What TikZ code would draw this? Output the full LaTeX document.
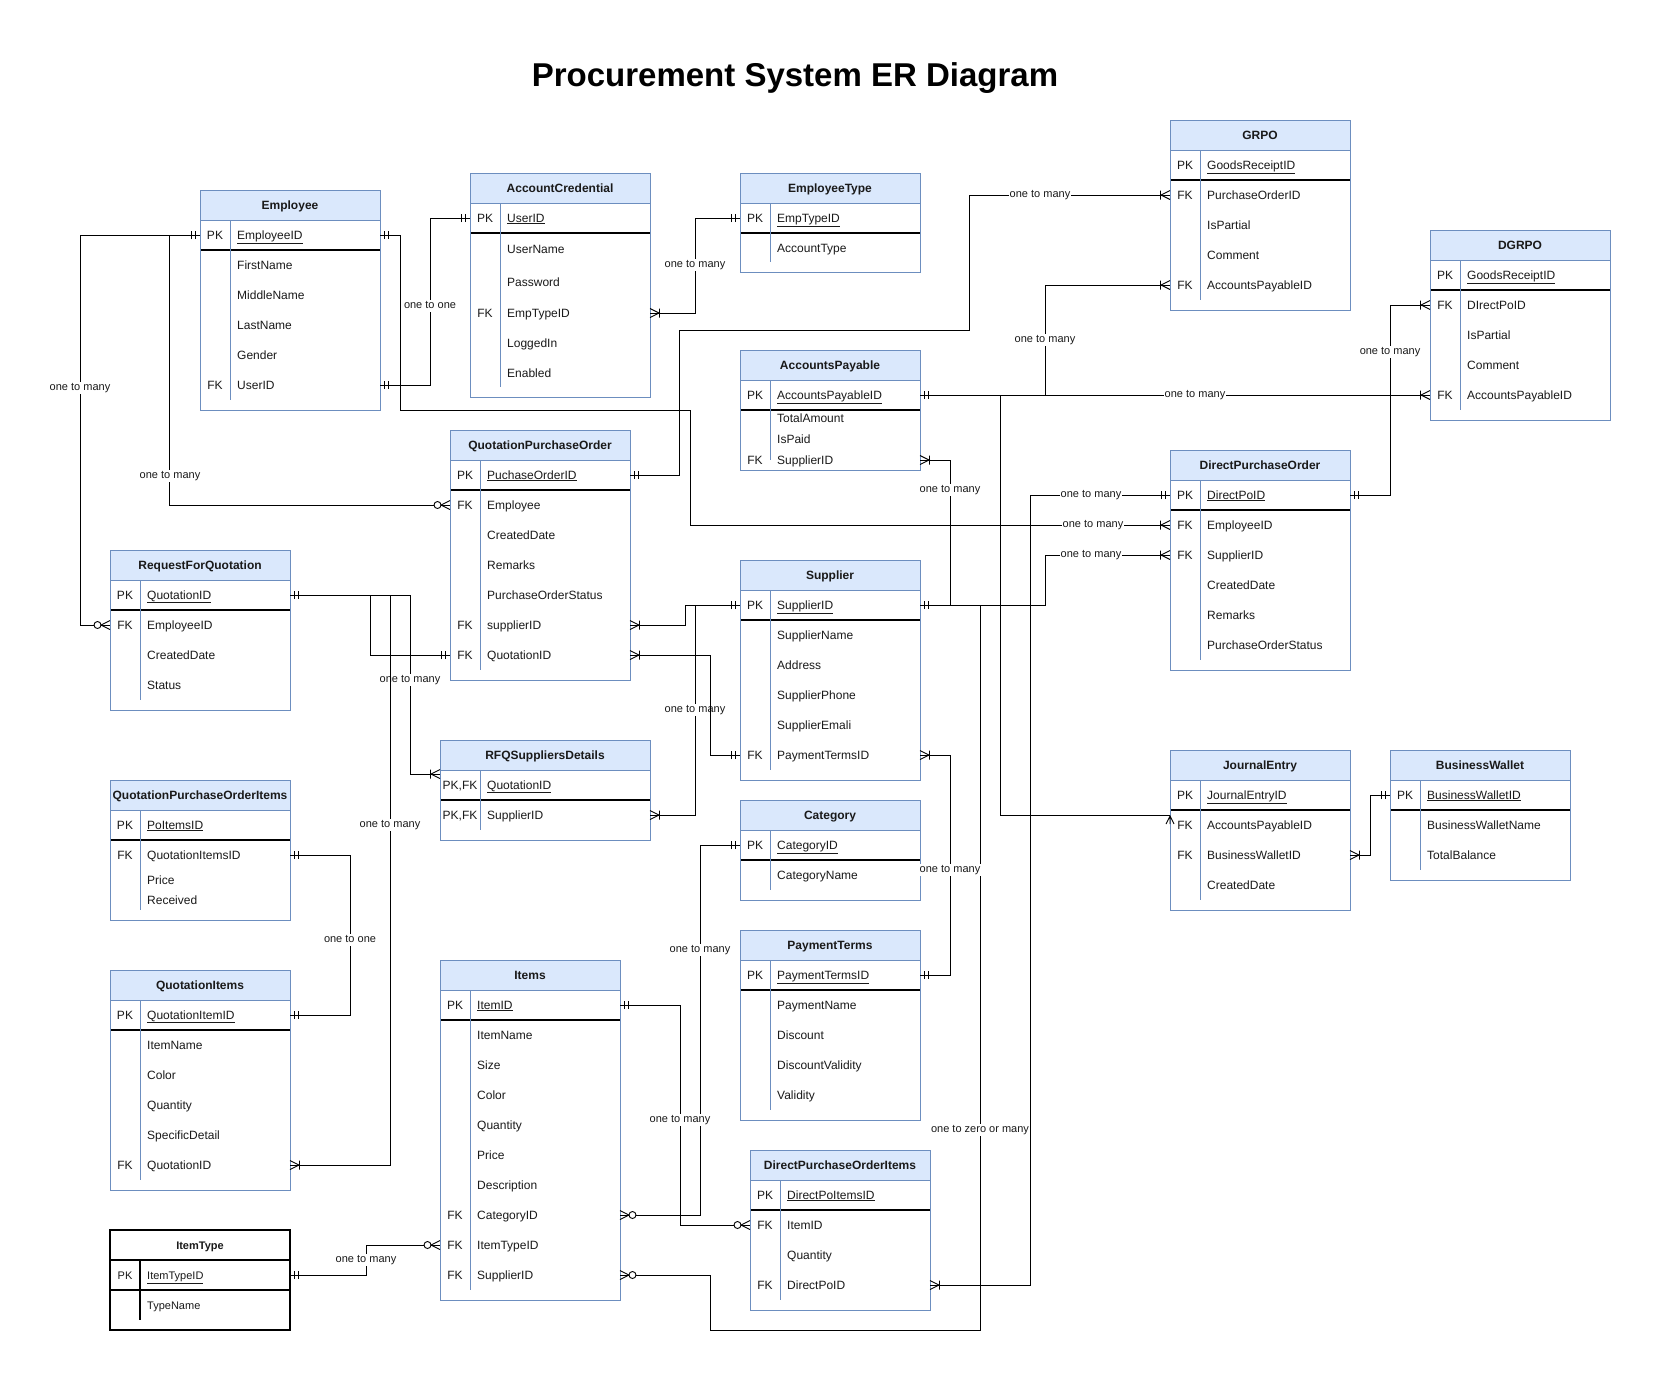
\documentclass[tikz,border=0pt]{standalone}
\usepackage{fontspec}
\setmainfont{Liberation Sans}
\definecolor{bc}{HTML}{6C8EBF}
\definecolor{hf}{HTML}{DAE8FC}
\definecolor{tc}{HTML}{1A1A1A}
\tikzset{
  bordc/.style={draw=bc, line width=1pt},
  hdrfill/.style={fill=hf},
  pkline/.style={draw=black, line width=1.3pt},
  ttl/.style={font=\fontsize{12}{14}\selectfont\bfseries, text=tc, inner sep=0pt, text height=8pt, text depth=0pt},
  keytxt/.style={font=\fontsize{12}{14}\selectfont, text=tc, inner sep=0pt, text height=8pt, text depth=0pt},
  attrtxt/.style={font=\fontsize{12}{14}\selectfont, text=tc, inner sep=0pt, anchor=west, text height=8pt, text depth=0pt},
  rowbox/.style={draw=none, minimum height=20pt, inner sep=0pt, outer sep=0pt},
  framebox/.style={draw=none, inner sep=0pt, outer sep=0pt},
  conn/.style={draw=black, line width=1pt},
  mk/.style={draw=black, line width=0.9pt},
  lbl/.style={fill=white, text=tc, font=\fontsize{11}{13}\selectfont, inner xsep=0.5pt, inner ysep=1pt, text height=7.6pt, text depth=2.3pt},
  mone/.pic={\draw[mk] (4.5,-4) -- (4.5,4) (8.5,-4) -- (8.5,4);},
  onemany/.pic={\draw[mk] (0,-4.5) -- (9,0) -- (0,4.5) (9.5,-4.5) -- (9.5,4.5);},
  zmany/.pic={\draw[mk] (0,-4.5) -- (9,0) -- (0,4.5); \draw[mk,fill=white] (12.5,0) circle (3.5);},
  vmany/.pic={\draw[mk] (0,-4) -- (8,0) -- (0,4) (0,0) -- (8,0);},
}
% #1 opts, #2 id, #3 x, #4 top, #5 width, #6 bottom, #7 title, #8 key width
\newcommand\Ent[8][]{%
  \begin{scope}[#1]
  \node[framebox, minimum width={#5*1pt}, minimum height={(#6-#4)*1pt}, anchor=north west] (#2) at (#3,#4) {};
  \fill[hdrfill] (#3,#4) rectangle ({#3+#5},{#4+30});
  \node[ttl] (#2-t) at ({#3+#5/2},{#4+15}) {#7};
  \draw[bordc] (#3,{#4+30}) -- ({#3+#5},{#4+30});
  \draw[pkline] (#3,{#4+60}) -- ({#3+#5},{#4+60});
  \draw[bordc] ({#3+#8},{#4+30}) -- ({#3+#8},{#6-10});
  \draw[bordc] (#3,#4) rectangle ({#3+#5},#6);
  \end{scope}}
% #1 key width, #2 id, #3 x, #4 y, #5 width, #6 key, #7 text
\newcommand\Row[7][30]{%
  \node[rowbox, minimum width={#5*1pt}] (#2) at ({#3+#5/2},#4) {};
  \node[keytxt] (#2-k) at ({#3+#1/2},#4) {#6};
  \node[attrtxt] (#2-n) at ({#3+#1+7},#4) {#7};}
\begin{document}
\begin{tikzpicture}[x=1pt,y=-1pt]
\fill[white] (0,0) rectangle (1661,1390);
\useasboundingbox (0,0) rectangle (1661,1390);

\node (title) at (795,78) {\fontsize{33}{38}\selectfont\bfseries Procurement System ER Diagram};

% ---------------- entities
\Ent{emp}{200}{190}{180}{410}{Employee}{30}
\Row{emp-pk}{200}{235}{180}{PK}{\underline{EmployeeID}}
\Row{emp-first}{200}{265}{180}{}{FirstName}
\Row{emp-mid}{200}{295}{180}{}{MiddleName}
\Row{emp-last}{200}{325}{180}{}{LastName}
\Row{emp-gen}{200}{355}{180}{}{Gender}
\Row{emp-user}{200}{385}{180}{FK}{UserID}

\Ent{ac}{470}{173}{180}{397}{AccountCredential}{30}
\Row{ac-pk}{470}{218}{180}{PK}{\underline{UserID}}
\Row{ac-un}{470}{249}{180}{}{UserName}
\Row{ac-pw}{470}{282}{180}{}{Password}
\Row{ac-et}{470}{313}{180}{FK}{EmpTypeID}
\Row{ac-li}{470}{343}{180}{}{LoggedIn}
\Row{ac-en}{470}{373}{180}{}{Enabled}

\Ent{et}{740}{173}{180}{272}{EmployeeType}{30}
\Row{et-pk}{740}{218}{180}{PK}{\underline{EmpTypeID}}
\Row{et-at}{740}{248}{180}{}{AccountType}

\Ent{gr}{1170}{120}{180}{310}{GRPO}{30}
\Row{gr-pk}{1170}{165}{180}{PK}{\underline{GoodsReceiptID}}
\Row{gr-po}{1170}{195}{180}{FK}{PurchaseOrderID}
\Row{gr-ip}{1170}{225}{180}{}{IsPartial}
\Row{gr-cm}{1170}{255}{180}{}{Comment}
\Row{gr-ap}{1170}{285}{180}{FK}{AccountsPayableID}

\Ent{dg}{1430}{230}{180}{420}{DGRPO}{30}
\Row{dg-pk}{1430}{275}{180}{PK}{\underline{GoodsReceiptID}}
\Row{dg-dp}{1430}{305}{180}{FK}{DIrectPoID}
\Row{dg-ip}{1430}{335}{180}{}{IsPartial}
\Row{dg-cm}{1430}{365}{180}{}{Comment}
\Row{dg-ap}{1430}{395}{180}{FK}{AccountsPayableID}

\Ent{ap}{740}{350}{180}{470}{AccountsPayable}{30}
\Row{ap-pk}{740}{395}{180}{PK}{\underline{AccountsPayableID}}
\Row{ap-ta}{740}{418}{180}{}{TotalAmount}
\Row{ap-ip}{740}{439}{180}{}{IsPaid}
\Row{ap-sup}{740}{460}{180}{FK}{SupplierID}

\Ent{qpo}{450}{430}{180}{680}{QuotationPurchaseOrder}{30}
\Row{qpo-pk}{450}{475}{180}{PK}{\underline{PuchaseOrderID}}
\Row{qpo-emp}{450}{505}{180}{FK}{Employee}
\Row{qpo-cd}{450}{535}{180}{}{CreatedDate}
\Row{qpo-rm}{450}{565}{180}{}{Remarks}
\Row{qpo-st}{450}{595}{180}{}{PurchaseOrderStatus}
\Row{qpo-sup}{450}{625}{180}{FK}{supplierID}
\Row{qpo-q}{450}{655}{180}{FK}{QuotationID}

\Ent{rfq}{110}{550}{180}{710}{RequestForQuotation}{30}
\Row{rfq-pk}{110}{595}{180}{PK}{\underline{QuotationID}}
\Row{rfq-emp}{110}{625}{180}{FK}{EmployeeID}
\Row{rfq-cd}{110}{655}{180}{}{CreatedDate}
\Row{rfq-st}{110}{685}{180}{}{Status}

\Ent{sup}{740}{560}{180}{780}{Supplier}{30}
\Row{sup-pk}{740}{605}{180}{PK}{\underline{SupplierID}}
\Row{sup-name}{740}{635}{180}{}{SupplierName}
\Row{sup-addr}{740}{665}{180}{}{Address}
\Row{sup-ph}{740}{695}{180}{}{SupplierPhone}
\Row{sup-em}{740}{725}{180}{}{SupplierEmali}
\Row{sup-pt}{740}{755}{180}{FK}{PaymentTermsID}

\Ent{dpo}{1170}{450}{180}{670}{DirectPurchaseOrder}{30}
\Row{dpo-pk}{1170}{495}{180}{PK}{\underline{DirectPoID}}
\Row{dpo-emp}{1170}{525}{180}{FK}{EmployeeID}
\Row{dpo-sup}{1170}{555}{180}{FK}{SupplierID}
\Row{dpo-cd}{1170}{585}{180}{}{CreatedDate}
\Row{dpo-rm}{1170}{615}{180}{}{Remarks}
\Row{dpo-st}{1170}{645}{180}{}{PurchaseOrderStatus}

\Ent{rsd}{440}{740}{210}{840}{RFQSuppliersDetails}{40}
\Row[40]{rsd-q}{440}{785}{210}{PK,FK}{\underline{QuotationID}}
\Row[40]{rsd-s}{440}{815}{210}{PK,FK}{SupplierID}

\Ent{qpi}{110}{780}{180}{920}{QuotationPurchaseOrderItems}{30}
\Row{qpi-pk}{110}{825}{180}{PK}{\underline{PoItemsID}}
\Row{qpi-qi}{110}{855}{180}{FK}{QuotationItemsID}
\Row{qpi-pr}{110}{880}{180}{}{Price}
\Row{qpi-rc}{110}{900}{180}{}{Received}

\Ent{qi}{110}{970}{180}{1190}{QuotationItems}{30}
\Row{qi-pk}{110}{1015}{180}{PK}{\underline{QuotationItemID}}
\Row{qi-in}{110}{1045}{180}{}{ItemName}
\Row{qi-co}{110}{1075}{180}{}{Color}
\Row{qi-qt}{110}{1105}{180}{}{Quantity}
\Row{qi-sd}{110}{1135}{180}{}{SpecificDetail}
\Row{qi-q}{110}{1165}{180}{FK}{QuotationID}

\Ent[bordc/.style={draw=black,line width=1.2pt}, hdrfill/.style={fill=white}, ttl/.append style={font=\fontsize{11}{13}\selectfont\bfseries}]{it}{110}{1230}{180}{1330}{ItemType}{30}
\begin{scope}[keytxt/.append style={font=\fontsize{11}{13}\selectfont}, attrtxt/.append style={font=\fontsize{11}{13}\selectfont}]
\Row{it-pk}{110}{1275}{180}{PK}{\underline{ItemTypeID}}
\Row{it-tn}{110}{1305}{180}{}{TypeName}
\end{scope}

\Ent{itm}{440}{960}{180}{1300}{Items}{30}
\Row{itm-pk}{440}{1005}{180}{PK}{\underline{ItemID}}
\Row{itm-nm}{440}{1035}{180}{}{ItemName}
\Row{itm-sz}{440}{1065}{180}{}{Size}
\Row{itm-co}{440}{1095}{180}{}{Color}
\Row{itm-qt}{440}{1125}{180}{}{Quantity}
\Row{itm-pr}{440}{1155}{180}{}{Price}
\Row{itm-ds}{440}{1185}{180}{}{Description}
\Row{itm-cat}{440}{1215}{180}{FK}{CategoryID}
\Row{itm-typ}{440}{1245}{180}{FK}{ItemTypeID}
\Row{itm-sup}{440}{1275}{180}{FK}{SupplierID}

\Ent{cat}{740}{800}{180}{900}{Category}{30}
\Row{cat-pk}{740}{845}{180}{PK}{\underline{CategoryID}}
\Row{cat-nm}{740}{875}{180}{}{CategoryName}

\Ent{pt}{740}{930}{180}{1120}{PaymentTerms}{30}
\Row{pt-pk}{740}{975}{180}{PK}{\underline{PaymentTermsID}}
\Row{pt-nm}{740}{1005}{180}{}{PaymentName}
\Row{pt-dc}{740}{1035}{180}{}{Discount}
\Row{pt-dv}{740}{1065}{180}{}{DiscountValidity}
\Row{pt-va}{740}{1095}{180}{}{Validity}

\Ent{dpi}{750}{1150}{180}{1310}{DirectPurchaseOrderItems}{30}
\Row{dpi-pk}{750}{1195}{180}{PK}{\underline{DirectPoItemsID}}
\Row{dpi-item}{750}{1225}{180}{FK}{ItemID}
\Row{dpi-qt}{750}{1255}{180}{}{Quantity}
\Row{dpi-dpo}{750}{1285}{180}{FK}{DirectPoID}

\Ent{je}{1170}{750}{180}{910}{JournalEntry}{30}
\Row{je-pk}{1170}{795}{180}{PK}{\underline{JournalEntryID}}
\Row{je-ap}{1170}{825}{180}{FK}{AccountsPayableID}
\Row{je-bw}{1170}{855}{180}{FK}{BusinessWalletID}
\Row{je-cd}{1170}{885}{180}{}{CreatedDate}

\Ent{bw}{1390}{750}{180}{880}{BusinessWallet}{30}
\Row{bw-pk}{1390}{795}{180}{PK}{\underline{BusinessWalletID}}
\Row{bw-nm}{1390}{825}{180}{}{BusinessWalletName}
\Row{bw-tb}{1390}{855}{180}{}{TotalBalance}

% ---------------- connectors
\draw[conn] (emp-pk.west) -- ++(-120,0) |- (rfq-emp.west);
\node[lbl] (l1) at (80,388) {one to many};
\draw[conn] (emp-pk.west) -- ++(-30.5,0) |- (qpo-emp.west);
\node[lbl] (l2) at (170,476) {one to many};
\draw[conn] (emp-pk.east) -| (400,410) -- (690,410) |- (dpo-emp.west);
\draw[conn] (emp-user.east) -- ++(50,0) |- (ac-pk.west);
\node[lbl] (l4) at (430,306) {one to one};
\draw[conn] (ac-et.east) -- ++(45,0) |- (et-pk.west);
\node[lbl] (l5) at (695,265) {one to many};
\draw[conn] (qpo-pk.east) -| (679,330) -- (969,330) |- (gr-po.west);
\node[lbl] (l6) at (1040,195) {one to many};
\draw[conn] (ap-pk.east) -- (dg-ap.west);
\draw[conn] (ap-pk.east) -- ++(125,0) |- (gr-ap.west);
\node[lbl] (l8) at (1045,340) {one to many};
\draw[conn] (ap-pk.east) -- ++(80,0) |- ([yshift=10pt]je-ap.west);
\draw[conn] (ap-sup.east) -- ++(30,0) |- (sup-pk.east);
\node[lbl] (l10) at (950,490) {one to many};
\draw[conn] (sup-pk.east) -- ++(125,0) |- (dpo-sup.west);
\node[lbl] (l11) at (1091,555) {one to many};
\draw[conn] (dpo-pk.west) -- ++(-140,0) |- (dpi-dpo.east);
\node[lbl] (l12) at (1091,495) {one to many};
\node[lbl] (l3) at (1093,525) {one to many};
\node[lbl] (l7) at (1195,395) {one to many};
\draw[conn] (dpo-pk.east) -- ++(40,0) |- (dg-dp.west);
\node[lbl] (l13) at (1390,352) {one to many};
\draw[conn] (qpo-sup.east) -- ++(55,0) |- (sup-pk.west);
\draw[conn] (rsd-s.east) -- ++(45,0) |- (sup-pk.west);
\node[lbl] (l15) at (695,710) {one to many};
\draw[conn] (qpo-q.east) -- ++(80,0) |- (sup-pt.west);
\draw[conn] (rfq-pk.east) -- ++(80.5,0) |- (qpo-q.west);
\draw[conn] (rfq-pk.east) -- ++(120,0) |- ([yshift=11pt]rsd-q.west);
\node[lbl] (l18) at (410,680) {one to many};
\draw[conn] (rfq-pk.east) -- ++(100,0) |- (qi-q.east);
\node[lbl] (l19) at (390,825) {one to many};
\draw[conn] (qpi-qi.east) -- ++(60,0) |- (qi-pk.east);
\node[lbl] (l20) at (350,940) {one to one};
\draw[conn] (it-pk.east) -- ++(76,0) |- (itm-typ.west);
\node[lbl] (l21) at (366,1260) {one to many};
\draw[conn] (itm-cat.east) -- ++(80,0) |- (cat-pk.west);
\node[lbl] (l22) at (700,950) {one to many};
\draw[conn] (itm-pk.east) -- ++(60,0) |- (dpi-item.west);
\node[lbl] (l23) at (680,1120) {one to many};
\draw[conn] (itm-sup.east) -| (710,1330) -| (980,605) -- (sup-pk.east);
\node[lbl] (l24) at (980,1130) {one to zero or many};
\draw[conn] (sup-pt.east) -- ++(30,0) |- (pt-pk.east);
\node[lbl] (l25) at (950,870) {one to many};
\draw[conn] (je-bw.east) -- ++(20,0) |- (bw-pk.west);

% ---------------- end markers
\pic[rotate=180] at (emp-pk.west) {mone};
\pic at (emp-pk.east) {mone};
\pic[rotate=180] at (rfq-emp.west) {zmany};
\pic[rotate=180] at (qpo-emp.west) {zmany};
\pic[rotate=180] at (dpo-emp.west) {onemany};
\pic at (emp-user.east) {mone};
\pic[rotate=180] at (ac-pk.west) {mone};
\pic at (ac-et.east) {onemany};
\pic[rotate=180] at (et-pk.west) {mone};
\pic at (qpo-pk.east) {mone};
\pic[rotate=180] at (gr-po.west) {onemany};
\pic at (ap-pk.east) {mone};
\pic[rotate=180] at (dg-ap.west) {onemany};
\pic[rotate=180] at (gr-ap.west) {onemany};
\pic[rotate=90] at ([yshift=1pt]je-ap.west) {vmany};
\pic at (ap-sup.east) {onemany};
\pic at (sup-pk.east) {mone};
\pic[rotate=180] at (dpo-sup.west) {onemany};
\pic[rotate=180] at (dpo-pk.west) {mone};
\pic at (dpi-dpo.east) {onemany};
\pic at (dpo-pk.east) {mone};
\pic[rotate=180] at (dg-dp.west) {onemany};
\pic at (qpo-sup.east) {onemany};
\pic[rotate=180] at (sup-pk.west) {mone};
\pic at (rsd-s.east) {onemany};
\pic at (qpo-q.east) {onemany};
\pic[rotate=180] at (sup-pt.west) {mone};
\pic at (rfq-pk.east) {mone};
\pic[rotate=180] at (qpo-q.west) {mone};
\pic[rotate=180] at ([yshift=11pt]rsd-q.west) {onemany};
\pic at (qi-q.east) {onemany};
\pic at (qpi-qi.east) {mone};
\pic at (qi-pk.east) {mone};
\pic at (it-pk.east) {mone};
\pic[rotate=180] at (itm-typ.west) {zmany};
\pic at (itm-cat.east) {zmany};
\pic[rotate=180] at (cat-pk.west) {mone};
\pic at (itm-pk.east) {mone};
\pic[rotate=180] at (dpi-item.west) {zmany};
\pic at (itm-sup.east) {zmany};
\pic at (sup-pt.east) {onemany};
\pic at (pt-pk.east) {mone};
\pic at (je-bw.east) {onemany};
\pic[rotate=180] at (bw-pk.west) {mone};
\end{tikzpicture}
\end{document}
